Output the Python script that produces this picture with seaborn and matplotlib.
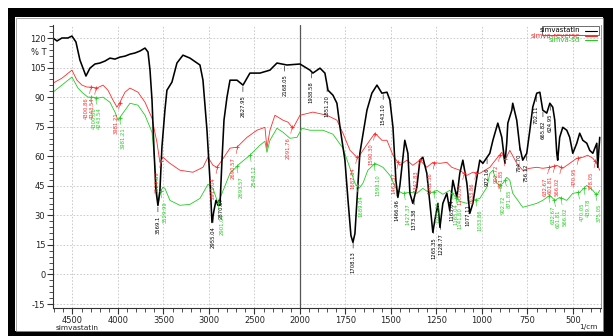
import numpy as np
import pandas as pd
import matplotlib
matplotlib.use("Agg")
import matplotlib.pyplot as plt
import seaborn as sns
from matplotlib.ticker import FixedLocator
from matplotlib.patches import Rectangle
from matplotlib.lines import Line2D

# ---------------- data (wavenumber in 1/cm, %T) ----------------
black_wn = [4714,4670,4616,4550,4506,4462,4418,4385,4352,4308,
            4253,4198,4143,4088,4033,3978,3923,3868,3813,3758,
            3703,3670,3648,3626,3604,3583,3561,3539,3517,3484,
            3462,3407,3352,3286,3209,3099,3066,3022,2989,2967,
            2945,2923,2901,2879,2857,2835,2802,2769,2692,2626,
            2550,2440,2330,2253,2143,2000,1945,1929,1890,1863,
            1846,1819,1797,1780,1753,1736,1720,1709,1698,1687,
            1671,1632,1605,1577,1550,1522,1506,1489,1473,1462,
            1451,1440,1424,1407,1396,1380,1358,1341,1325,1303,
            1286,1270,1259,1242,1231,1215,1193,1177,1160,1138,
            1122,1105,1083,1067,1050,1028,1012,995,957,940,
            913,891,874,864,858,836,831,809,792,776,
            754,737,721,699,682,666,644,627,611,600,
            589,584,573,556,534,518,501,479,463,446,
            424,408,391,369,364,353]
black_t = [120.0,118.5,120.0,120.0,121.0,118.0,108.8,104.7,100.7,104.7,
           106.8,107.3,108.3,109.8,109.3,110.3,110.8,111.8,112.4,113.4,
           114.9,112.9,103.7,88.5,63.0,42.7,35.1,42.7,64.6,83.4,
           93.5,97.6,107.3,111.3,109.8,106.3,98.6,73.2,47.8,26.4,
           32.5,37.6,35.1,35.1,58.0,78.3,90.0,98.6,98.6,96.1,
           102.2,102.2,103.7,107.3,106.3,106.8,103.7,102.2,104.7,102.2,
           93.5,91.0,86.9,74.7,58.0,37.6,19.8,16.3,20.8,37.6,
           61.5,83.4,92.0,96.1,92.0,92.5,88.5,74.7,47.8,39.1,
           45.2,54.4,68.1,61.5,41.2,36.1,44.2,58.0,59.5,51.3,
           36.1,21.4,27.5,36.1,23.9,36.1,41.2,32.5,47.8,39.1,
           51.3,58.0,46.3,31.0,36.1,49.3,58.0,56.4,61.5,68.1,
           76.8,69.6,56.4,66.6,76.8,83.4,86.9,78.3,64.6,58.0,
           61.5,73.2,84.9,92.0,92.5,83.4,81.9,86.9,84.9,78.3,
           61.5,58.0,69.6,74.7,73.2,69.6,61.5,66.6,71.7,68.1,
           66.6,63.0,61.5,66.6,54.4,69.6]

red_wn = [4714,4616,4506,4451,4396,4341,4286,4231,4165,4110,
          4055,4011,3978,3923,3868,3780,3703,3626,3572,3539,
          3506,3429,3319,3176,3066,3011,2956,2912,2857,2769,
          2692,2582,2473,2385,2363,2330,2275,2187,2132,2077,
          2000,1929,1852,1797,1764,1725,1682,1654,1616,1588,
          1550,1522,1489,1451,1413,1380,1341,1303,1270,1231,
          1193,1166,1122,1083,1050,1012,957,918,891,874,
          847,809,776,737,699,666,627,589,556,518,
          479,446,419,391,369,353]
red_t = [97.1,99.6,103.7,98.6,96.1,95.1,95.1,94.6,96.1,93.5,
         88.5,84.9,87.4,92.5,94.6,92.5,87.4,79.3,67.1,56.9,
         59.5,56.4,52.9,51.9,54.4,59.5,55.4,54.4,58.0,64.1,
         64.6,69.6,73.2,74.7,64.1,73.2,80.8,78.3,77.3,74.2,
         80.8,82.4,80.8,78.3,71.7,63.0,59.0,63.0,68.1,71.7,
         68.1,68.1,60.5,55.4,58.0,55.4,58.0,54.4,56.9,56.4,
         56.9,54.4,52.9,50.3,51.9,51.3,54.4,59.0,62.0,58.0,
         63.0,56.4,52.9,53.9,54.4,53.9,54.4,55.4,53.9,56.4,
         59.0,59.5,60.5,59.0,56.4,52.9]

green_wn = [4714,4616,4506,4440,4385,4330,4275,4220,4165,4088,
            4033,4000,3945,3868,3780,3703,3626,3594,3561,3528,
            3506,3484,3429,3319,3209,3099,3011,2956,2901,2857,
            2769,2659,2550,2440,2385,2363,2330,2253,2187,2110,
            2033,1989,1945,1874,1819,1764,1725,1698,1676,1654,
            1627,1588,1544,1506,1467,1435,1396,1358,1325,1286,
            1248,1215,1177,1149,1122,1083,1050,1012,973,957,
            940,918,902,885,864,847,831,803,776,737,
            699,666,627,600,573,534,501,463,424,391,
            369,353]
green_t = [92.5,96.1,100.2,94.6,92.0,90.0,90.0,89.5,90.0,87.4,
           82.4,78.3,81.9,86.9,85.9,80.8,72.2,55.4,35.1,42.7,
           44.2,43.7,37.6,35.1,35.6,38.6,45.8,43.7,36.1,41.2,
           51.3,56.4,60.5,65.6,67.6,62.0,68.1,74.2,72.2,69.1,
           69.6,74.2,73.2,73.2,71.2,64.1,53.9,46.3,43.7,46.3,
           52.9,56.4,54.4,50.3,42.7,41.2,41.7,41.2,43.7,41.2,
           42.7,40.7,42.7,39.7,37.1,36.1,37.6,38.6,44.2,51.3,
           52.9,46.3,45.2,46.3,49.3,47.8,41.2,37.6,34.1,35.1,
           36.1,37.6,40.2,37.6,39.1,37.6,41.2,41.7,45.2,42.7,
           40.2,42.7]

series_names = ["simvastatin", "simva-reverse", "simva-sd"]
series_colors = ["#000000", "#ff2a2a", "#22cc22"]

black_label_wn = [3561, 2955, 2870, 2627, 2168, 1938, 1851, 1708, 1543, 1467,
                  1373, 1265, 1228, 1165, 1077, 972, 794, 756, 702, 665, 625]
black_label_txt = ["3569.1", "2955.04", "2870.87", "2627.95", "2168.05", "1938.58",
                   "1851.20", "1708.13", "1543.10", "1466.96", "1373.38", "1265.35",
                   "1228.77", "1165.04", "1077.11", "972.16", "794.70", "756.12",
                   "702.11", "665.82", "624.95"]
red_label_wn = [4301, 4244, 3981, 3530, 2911, 2690, 2090, 1688, 1590, 1462,
                1343, 1262, 1100, 1034, 903, 872, 633, 602, 566, 471, 378]
red_label_txt = ["4300.86", "4243.54", "3981.21", "3529.89", "2911.04", "2690.57",
                 "2091.76", "1687.84", "1590.30", "1462.37", "1342.83", "1262.36",
                 "1100.04", "1033.86", "902.72", "871.85", "632.67", "601.81",
                 "566.02", "470.95", "378.05"]
green_label_wn = [4301, 4244, 3981, 3530, 2901, 2693, 2548, 1689, 1593, 1427,
                  1265, 1165, 1142, 1034, 903, 872, 633, 602, 566, 470, 440, 375]
green_label_txt = ["4300.86", "4243.54", "3981.21", "3529.99", "2901.04", "2693.57",
                   "2548.12", "1689.04", "1593.10", "1427.37", "1265.36", "1165.04",
                   "1141.60", "1033.86", "902.72", "871.85", "632.67", "601.81",
                   "566.02", "470.05", "439.78", "375.05"]

x_major = [4500, 4000, 3500, 3000, 2500, 2000, 1750, 1500, 1250, 1000, 750, 500]
y_major = [-15, 0, 15, 30, 45, 60, 75, 90, 105, 120]

# ---------------- figure ----------------
sns.set_theme(style="white")
plt.rcParams["font.family"] = ["DejaVu Sans"]

W, H = 613, 336
fig = plt.figure(figsize=(W / 100, H / 100), dpi=100, facecolor="white")

# black frame around the panel
for (x0, y0, w, h) in [(8, 8, W - 8, 9), (8, 8, 7, H - 8), (603, 8, 10, H - 8), (8, 331, W - 8, 5)]:
    fig.add_artist(Rectangle((x0 / W, 1 - (y0 + h) / H), w / W, h / H,
                             transform=fig.transFigure, color="black", lw=0))
fig.add_artist(Rectangle((15.5 / W, 1 - 330.5 / H), 587 / W, 313 / H, transform=fig.transFigure,
                         fill=False, edgecolor="#9a9a9a", lw=0.6))

axL, axR, axT, axB = 53, 601, 25, 308
ax = fig.add_axes([axL / W, 1 - axB / H, (axR - axL) / W, (axB - axT) / H])
ax.set_facecolor("white")

frames = []
for name, wn, t in [(series_names[0], black_wn, black_t),
                    (series_names[1], red_wn, red_t),
                    (series_names[2], green_wn, green_t)]:
    frames.append(pd.DataFrame({"wn": wn, "T": t, "sample": name}))
df = pd.concat(frames, ignore_index=True)

widths = {series_names[0]: 1.15, series_names[1]: 0.6, series_names[2]: 0.6}
for name, col in reversed(list(zip(series_names, series_colors))):
    sns.lineplot(data=df[df["sample"] == name], x="wn", y="T", color=col,
                 lw=widths[name], estimator=None, ax=ax, legend=False)


def fwd(w):
    w = np.asarray(w, dtype=float)
    return np.where(w <= 2000, w, 2000 + (w - 2000) / 2.0)


def inv(u):
    u = np.asarray(u, dtype=float)
    return np.where(u <= 2000, u, 2000 + (u - 2000) * 2.0)


ax.set_xscale("function", functions=(fwd, inv))
ax.set_xlim(4714, 346)
ax.set_ylim(-17.0, 126.6)

ax.xaxis.set_major_locator(FixedLocator(x_major))
ax.xaxis.set_minor_locator(FixedLocator(list(range(4700, 2000, -100)) + list(range(1950, 340, -50))))
ax.yaxis.set_major_locator(FixedLocator(y_major))
ax.yaxis.set_minor_locator(FixedLocator(list(range(-15, 127, 3))))
ax.set_xticklabels([str(v) for v in x_major])
ax.set_yticklabels([str(v) for v in y_major])
ax.tick_params(which="major", direction="out", length=4.5, width=0.8, color="#333333",
               labelsize=6, labelcolor="#222222", pad=1.0)
ax.tick_params(which="minor", direction="out", length=3, width=0.6, color="#333333")
ax.tick_params(axis="x", which="both", bottom=True, top=False)
ax.tick_params(axis="y", which="both", left=True, right=False)

ax.grid(which="major", axis="both", linestyle=(0, (2, 2)), color="#c4c4c4", linewidth=0.6)
ax.axvline(2000, color="#555555", lw=0.9, zorder=1)
ax.set_xlabel("")
ax.set_ylabel("")

for s in ["left", "bottom"]:
    ax.spines[s].set_color("#333333")
    ax.spines[s].set_linewidth(0.8)
ax.spines["top"].set_visible(False)
ax.spines["right"].set_color("#888888")
ax.spines["right"].set_linewidth(0.6)

ax.text(-0.012, 112.5, "% T", transform=ax.get_yaxis_transform(), ha="right",
        va="center", fontsize=6, color="#222222")

# peak labels
for wn_list, txt_list, cwn, ct, col, mark, dx in [
        (black_label_wn, black_label_txt, black_wn, black_t, "#000000", False, 0.0),
        (red_label_wn, red_label_txt, red_wn, red_t, "#ff2a2a", True, -2.8),
        (green_label_wn, green_label_txt, green_wn, green_t, "#22cc22", True, 2.8)]:
    cx = np.array(cwn[::-1], dtype=float)
    cy = np.array(ct[::-1], dtype=float)
    for w, s in zip(wn_list, txt_list):
        v = float(np.interp(w, cx, cy))
        if mark:
            ax.plot([w], [v], marker="+", ms=3.5, mew=0.6, color=col, zorder=3)
        ax.annotate(s, xy=(w, v - 0.8), xytext=(dx, -6.0), textcoords="offset points",
                    rotation=90, ha="center", va="top", fontsize=3.8, color=col,
                    arrowprops=dict(arrowstyle="-", lw=0.4, color=col,
                                    shrinkA=0, shrinkB=0))

# legend (top-right)
leg_y = [30.5, 35.5, 40.0]
for name, col, yy in zip(series_names, series_colors, leg_y):
    fig.text(580 / W, 1 - yy / H, name, ha="right", va="center", fontsize=5, color=col)
    fig.add_artist(Line2D([585 / W, 597 / W], [1 - yy / H, 1 - yy / H],
                          transform=fig.transFigure, color=col, lw=0.8))
fig.add_artist(Rectangle((542 / W, 1 - 34.5 / H), 57 / W, 8.5 / H, transform=fig.transFigure,
                         fill=False, edgecolor="#555555", lw=0.6))

fig.text(56 / W, 1 - 327.5 / H, "simvastatin", ha="left", va="center", fontsize=5.3, color="#222222")
fig.text(598 / W, 1 - 327.5 / H, "1/cm", ha="right", va="center", fontsize=5.3, color="#222222")

fig.savefig("out.png", dpi=100, facecolor="white")
